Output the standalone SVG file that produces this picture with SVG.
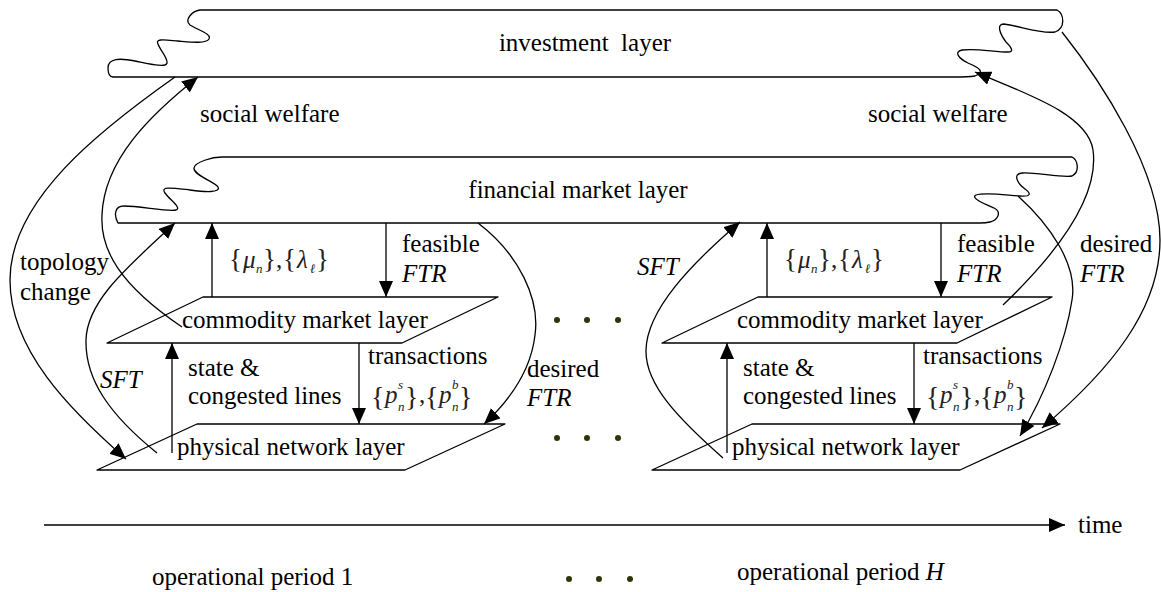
<svg xmlns="http://www.w3.org/2000/svg" width="1161" height="592" viewBox="0 0 1161 592" font-family="'Liberation Serif', 'Times New Roman', Times, serif">
<defs>
<marker id="ah" markerUnits="userSpaceOnUse" markerWidth="17" markerHeight="14" refX="16" refY="7" orient="auto"><path d="M0,0 L16,7 L0,14 Z" fill="#000"/></marker>
</defs>
<style>
text{font-family:'Liberation Serif','Times New Roman',Times,serif;font-size:25px;fill:#000}
.it{font-style:italic}
.ar{fill:none;stroke:#000;stroke-width:1.3;marker-end:url(#ah)}
.lay{fill:none;stroke:#000;stroke-width:1.3;stroke-linejoin:round}
.dot{fill:#33330a}
.f{fill:#222}
.sb{font-size:13px;font-style:italic}
.br{font-size:27px;font-style:normal}
.bp{font-size:28px;font-style:normal}
.nm{font-style:normal}
</style>
<rect width="1161" height="592" fill="#fff"/>

<g id="investment-layer">
<path class="lay" d="M200,10 L1057,10 C1064,14 1066,28 1055,32 C1040,34 1020,26 1004,24 C996,24 1000,34 1006,42 C1012,48 1014,52 1008,52 C995,52 975,48 962,50 C954,52 958,58 968,63 C980,68 985,72 975,76 Q968,77 955,77 L113,77 C110,77 108,74 108,68 C108,58 120,58 135,61 C150,64 166,68 167,63 C168,58 160,50 158,44 C155,38 166,40 178,41 C190,42 206,44 209,39 C212,34 198,30 190,25 C184,20 192,11 200,10 Z"/>
<text x="585" y="51" text-anchor="middle" xml:space="preserve">investment  layer</text>
</g>

<g id="financial-market-layer">
<path class="lay" d="M222,157 L1072,157 C1078,160 1080,172 1072,176 C1062,178 1035,172 1022,173 C1012,174 1018,184 1025,189 C1032,194 1030,197 1020,196 C1005,195 985,192 976,195 C970,198 985,204 994,208 C1002,212 998,220 990,222 C986,223 983,223 980,223 L118,223 C114,216 114,206 124,206 C140,206 168,212 176,210 C182,208 170,200 165,193 C160,186 172,188 190,190 C205,192 221,193 218,187 C215,182 193,175 194,168 C195,162 212,157 222,157 Z"/>
<text x="578" y="198" text-anchor="middle">financial market layer</text>
</g>

<g id="commodity-market-layer-1">
<polygon class="lay" points="203,297 498,297 402,343 107,343"/>
<text x="182" y="328">commodity market layer</text>
</g>
<g id="physical-network-layer-1">
<polygon class="lay" points="197,424 505,424 405,470 97,470"/>
<text x="177" y="455">physical network layer</text>
</g>
<g id="commodity-market-layer-H">
<polygon class="lay" points="758,297 1052,297 957,343 662,343"/>
<text x="737" y="328">commodity market layer</text>
</g>
<g id="physical-network-layer-H">
<polygon class="lay" points="752,424 1060,424 960,470 652,470"/>
<text x="732" y="455">physical network layer</text>
</g>

<g id="connectors">
<path class="ar" d="M175,77 C100,130 10,200 10,280 C10,350 70,410 126,459"/>
<path class="ar" d="M182,327 C120,285 100,250 102,215 C104,160 150,115 198,77"/>
<path class="ar" d="M157,453 C110,415 85,380 86,340 C87,300 130,265 175,223"/>
<path class="ar" d="M212,297 L212,223"/>
<path class="ar" d="M386,223 L386,297"/>
<path class="ar" d="M172,453 L172,343"/>
<path class="ar" d="M359,343 L359,424"/>
<path class="ar" d="M478,223 C520,255 540,300 535,335 C531,370 510,400 484,424"/>
<path class="ar" d="M723,458 C680,420 645,385 646,350 C647,310 690,265 740,222"/>
<path class="ar" d="M767,297 L767,223"/>
<path class="ar" d="M941,223 L941,297"/>
<path class="ar" d="M727,453 L727,343"/>
<path class="ar" d="M914,343 L914,424"/>
<path class="ar" d="M1003,305 C1050,260 1100,200 1093,150 C1088,115 1030,95 975,72"/>
<path class="ar" d="M1018,196 C1050,225 1078,265 1072,300 C1066,340 1045,395 1020,436"/>
<path class="ar" d="M1062,32 C1100,80 1160,170 1160,240 C1160,310 1110,370 1042,428"/>
<path class="ar" d="M44,525 L1065,525"/>
</g>

<g id="labels">
<text x="200" y="122">social welfare</text>
<text x="868" y="122">social welfare</text>
<text x="20" y="270">topology</text>
<text x="20" y="300">change</text>
<text class="it" x="100" y="388">SFT</text>
<text class="it" x="637" y="275">SFT</text>
<text x="402" y="252">feasible</text>
<text class="it" x="402" y="282">FTR</text>
<text x="957" y="252">feasible</text>
<text class="it" x="957" y="282">FTR</text>
<text x="188" y="376">state &amp;</text>
<text x="188" y="404">congested lines</text>
<text x="743" y="376">state &amp;</text>
<text x="743" y="404">congested lines</text>
<text x="368" y="364">transactions</text>
<text x="923" y="364">transactions</text>
<text x="527" y="377">desired</text>
<text class="it" x="527" y="406">FTR</text>
<text x="1080" y="252">desired</text>
<text class="it" x="1080" y="282">FTR</text>

<text class="f it"><tspan class="br" x="229" y="268">{</tspan><tspan x="243" y="268">μ</tspan><tspan class="sb" x="256" y="273">n</tspan><tspan class="br" x="263" y="268">}</tspan><tspan class="nm" x="276" y="268">,</tspan><tspan class="br" x="283" y="268">{</tspan><tspan x="297" y="268">λ</tspan><tspan class="sb" x="310" y="273">ℓ</tspan><tspan class="br" x="316" y="268">}</tspan></text>
<text class="f it"><tspan class="br" x="784" y="268">{</tspan><tspan x="798" y="268">μ</tspan><tspan class="sb" x="811" y="273">n</tspan><tspan class="br" x="818" y="268">}</tspan><tspan class="nm" x="831" y="268">,</tspan><tspan class="br" x="838" y="268">{</tspan><tspan x="852" y="268">λ</tspan><tspan class="sb" x="865" y="273">ℓ</tspan><tspan class="br" x="871" y="268">}</tspan></text>
<text class="f it"><tspan class="bp" x="371" y="406">{</tspan><tspan x="385" y="403">p</tspan><tspan class="sb" x="398" y="389">s</tspan><tspan class="sb" x="398" y="411">n</tspan><tspan class="bp" x="405" y="406">}</tspan><tspan class="nm" x="419" y="403">,</tspan><tspan class="bp" x="425" y="406">{</tspan><tspan x="439" y="403">p</tspan><tspan class="sb" x="452" y="389">b</tspan><tspan class="sb" x="452" y="411">n</tspan><tspan class="bp" x="459" y="406">}</tspan></text>
<text class="f it"><tspan class="bp" x="926" y="406">{</tspan><tspan x="940" y="403">p</tspan><tspan class="sb" x="953" y="389">s</tspan><tspan class="sb" x="953" y="411">n</tspan><tspan class="bp" x="960" y="406">}</tspan><tspan class="nm" x="974" y="403">,</tspan><tspan class="bp" x="980" y="406">{</tspan><tspan x="994" y="403">p</tspan><tspan class="sb" x="1007" y="389">b</tspan><tspan class="sb" x="1007" y="411">n</tspan><tspan class="bp" x="1014" y="406">}</tspan></text>

<text x="1078" y="533">time</text>
<text x="152" y="585">operational period 1</text>
<text x="737" y="580">operational period <tspan class="it">H</tspan></text>
</g>

<g id="ellipsis">
<circle class="dot" cx="557" cy="320" r="3"/><circle class="dot" cx="587" cy="320" r="3"/><circle class="dot" cx="618" cy="320" r="3"/>
<circle class="dot" cx="557" cy="438" r="3"/><circle class="dot" cx="587" cy="438" r="3"/><circle class="dot" cx="618" cy="438" r="3"/>
<circle class="dot" cx="569" cy="579" r="3"/><circle class="dot" cx="599" cy="579" r="3"/><circle class="dot" cx="630" cy="579" r="3"/>
</g>
</svg>
